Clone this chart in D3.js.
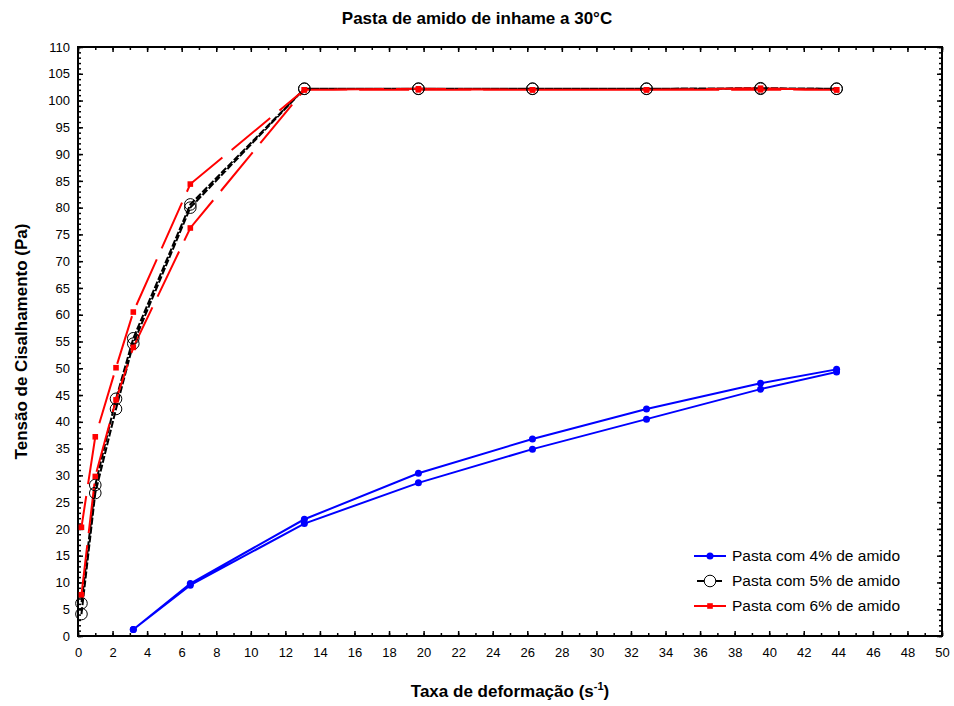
<!DOCTYPE html>
<html>
<head>
<meta charset="utf-8">
<script src="https://cdn.jsdelivr.net/npm/d3@7"></script>
<style>
  body { margin: 0; background: #fff; }
  text { font-family: "Liberation Sans", Arial, sans-serif; }
</style>
</head>
<body>
<svg id="chart" width="954" height="706"></svg>
<script>
// some data
const rate4 = [3.2, 6.5, 13.1, 19.7, 26.3, 32.9, 39.5, 43.9];
const up4 = [1.2, 9.5, 21.0, 28.6, 34.9, 40.5, 46.1, 49.3];
const down4 = [1.2, 9.8, 21.8, 30.4, 36.8, 42.4, 47.2, 49.8];

const rate56 = [0.2, 1.0, 2.2, 3.2, 6.5, 13.1, 19.7, 26.3, 32.9, 39.5, 43.9];
const up5 = [4.1, 26.7, 42.4, 54.6, 80.0, 102.2, 102.2, 102.2, 102.2, 102.2, 102.2];
const down5 = [6.1, 28.2, 44.3, 55.6, 80.6, 102.2, 102.2, 102.2, 102.2, 102.3, 102.2];
const up6 = [7.7, 29.8, 44.1, 53.9, 76.2, 102.0, 102.0, 102.0, 102.0, 102.0, 102.0];
const down6 = [20.3, 37.2, 50.1, 60.5, 84.4, 102.0, 102.2, 102.0, 102.0, 102.3, 102.0];

const seriesNames = ["Pasta com 4% de amido", "Pasta com 5% de amido", "Pasta com 6% de amido"];
const xTicks = d3.range(0, 51, 2);
const yTicks = d3.range(0, 111, 5);

const margin = ({top: 47, right: 12, bottom: 70, left: 78});
const width = 954;
const height = 706;

const x = d3.scaleLinear().domain([0, 50]).range([margin.left, width - margin.right]);
const y = d3.scaleLinear().domain([0, 110]).range([height - margin.bottom, margin.top]);

const svg = d3.select("#chart");

// loop = up curve then back down
function loop(rates, up, down) {
  const a = rates.map((r, i) => [r, up[i]]);
  const b = rates.map((r, i) => [r, down[i]]).reverse();
  return a.concat(b);
}

const line = d3.line().x(d => x(d[0])).y(d => y(d[1]));

const series = [
  {pts: loop(rate4, up4, down4), color: "#0000ff", dash: null, mark: "dot"},
  {pts: loop(rate56, up5, down5), color: "#000000", dash: "7,2", mark: "circle"},
  {pts: loop(rate56, up6, down6), color: "#ff0000", dash: "50,12", mark: "square"}
];

// axes with inward ticks
function drawAxis(gen, transform, showLabels) {
  const g = svg.append("g").attr("transform", transform).call(gen);
  g.select(".domain").remove();
  g.selectAll("line").attr("stroke", "#000").attr("stroke-width", 1.5);
  if (!showLabels) g.selectAll("text").remove();
  else g.selectAll("text").attr("font-size", 13).attr("fill", "#000");
  return g;
}
const bottomY = y(0), topY = y(110), leftX = x(0), rightX = x(50);

// minor ticks
drawAxis(d3.axisBottom(x).tickValues(d3.range(0, 51, 1)).tickSize(-3).tickFormat(""), `translate(0,${bottomY})`, false);
drawAxis(d3.axisTop(x).tickValues(d3.range(0, 51, 1)).tickSize(-3).tickFormat(""), `translate(0,${topY})`, false);
drawAxis(d3.axisLeft(y).tickValues(d3.range(0, 111, 1)).tickSize(-3).tickFormat(""), `translate(${leftX},0)`, false);
drawAxis(d3.axisRight(y).tickValues(d3.range(0, 111, 1)).tickSize(-3).tickFormat(""), `translate(${rightX},0)`, false);
// major ticks
drawAxis(d3.axisBottom(x).tickValues(xTicks).tickSize(-5).tickPadding(12), `translate(0,${bottomY})`, true);
drawAxis(d3.axisTop(x).tickValues(xTicks).tickSize(-5), `translate(0,${topY})`, false);
drawAxis(d3.axisLeft(y).tickValues(yTicks).tickSize(-5).tickPadding(8), `translate(${leftX},0)`, true);
drawAxis(d3.axisRight(y).tickValues(yTicks).tickSize(-5), `translate(${rightX},0)`, false);

// frame
svg.append("rect")
  .attr("x", leftX).attr("y", topY)
  .attr("width", rightX - leftX).attr("height", bottomY - topY)
  .attr("fill", "none").attr("stroke", "#000").attr("stroke-width", 2);

// lines
series.forEach(s => {
  svg.append("path")
    .datum(s.pts)
    .attr("d", line)
    .attr("fill", "none")
    .attr("stroke", s.color)
    .attr("stroke-width", 2)
    .attr("stroke-dasharray", s.dash);
});

function drawMark(g, mark, color, cx, cy) {
  if (mark === "dot") {
    g.append("circle").attr("cx", cx).attr("cy", cy).attr("r", 3.5).attr("fill", color);
  } else if (mark === "circle") {
    g.append("circle").attr("cx", cx).attr("cy", cy).attr("r", 5.8)
      .attr("fill", "none").attr("stroke", "#000").attr("stroke-width", 1);
  } else {
    g.append("rect").attr("x", cx - 2.8).attr("y", cy - 2.8).attr("width", 5.6).attr("height", 5.6).attr("fill", color);
  }
}

// markers
series.forEach(s => {
  const g = svg.append("g");
  s.pts.forEach(p => drawMark(g, s.mark, s.color, x(p[0]), y(p[1])));
});

// title
svg.append("text")
  .attr("x", 477).attr("y", 24)
  .attr("text-anchor", "middle")
  .attr("font-size", 17).attr("font-weight", "bold")
  .text("Pasta de amido de inhame a 30°C");

// axis titles
const xt = svg.append("text")
  .attr("x", (leftX + rightX) / 2).attr("y", 697)
  .attr("text-anchor", "middle")
  .attr("font-size", 17).attr("font-weight", "bold");
xt.append("tspan").text("Taxa de deformação (s");
xt.append("tspan").attr("font-size", 11).attr("dy", -7).text("-1");
xt.append("tspan").attr("dy", 7).text(")");

svg.append("text")
  .attr("transform", `translate(27,${(topY + bottomY) / 2}) rotate(-90)`)
  .attr("text-anchor", "middle")
  .attr("font-size", 17).attr("font-weight", "bold")
  .text("Tensão de Cisalhamento (Pa)");

// legend
const legendY = [556, 581, 606];
series.forEach((s, i) => {
  const g = svg.append("g");
  const ly = legendY[i];
  g.append("line")
    .attr("x1", s.mark === "circle" ? 697 : 694).attr("x2", s.mark === "circle" ? 722 : 726)
    .attr("y1", ly).attr("y2", ly)
    .attr("stroke", s.color).attr("stroke-width", 2);
  if (s.mark === "circle") {
    g.append("circle").attr("cx", 710).attr("cy", ly).attr("r", 5.8)
      .attr("fill", "#fff").attr("stroke", "#000").attr("stroke-width", 1);
  } else {
    drawMark(g, s.mark, s.color, 710, ly);
  }
  g.append("text")
    .attr("x", 732).attr("y", ly + 5)
    .attr("font-size", 15.5)
    .text(seriesNames[i]);
});
</script>
</body>
</html>
